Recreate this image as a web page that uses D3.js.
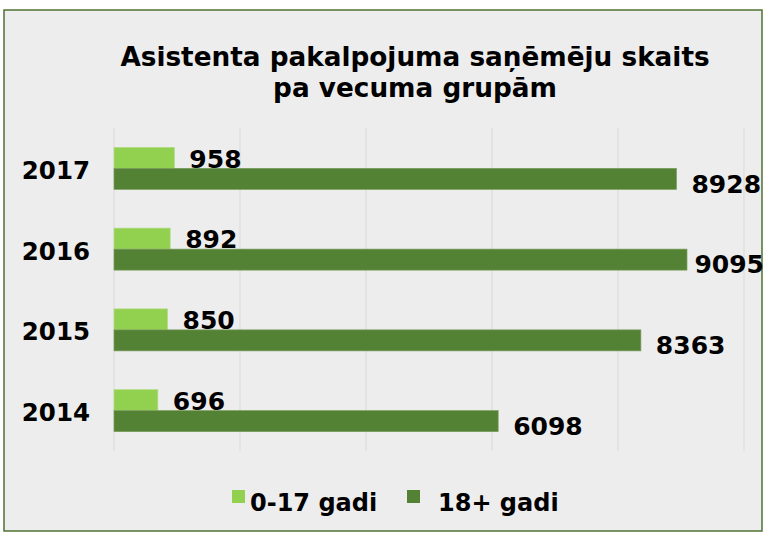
<!DOCTYPE html>
<html>
<head>
<meta charset="utf-8">
<script src="https://cdn.jsdelivr.net/npm/d3@7"></script>
<style>
  body { margin: 0; background: #fff; }
  text { font-family: "DejaVu Sans", Verdana, sans-serif; font-weight: bold; fill: #000; }
</style>
</head>
<body>
<div id="chart"></div>
<script>
// data
const years = ["2017", "2016", "2015", "2014"];
const youth = [958, 892, 850, 696];
const adults = [8928, 9095, 8363, 6098];
const seriesNames = ["0-17 gadi", "18+ gadi"];
const seriesColors = ["#92d050", "#548235"];
const xTicks = [0, 2000, 4000, 6000, 8000, 10000];

const width = 767, height = 535;

const svg = d3.select("#chart")
  .append("svg")
  .attr("width", width)
  .attr("height", height);

svg.append("rect")
  .attr("x", 4).attr("y", 10)
  .attr("width", 758).attr("height", 521)
  .attr("fill", "#ededed")
  .attr("stroke", "#4f7132")
  .attr("stroke-width", 1.5);

// title
const title = svg.append("text")
  .attr("text-anchor", "middle")
  .attr("font-size", 26.3);
title.append("tspan").attr("x", 415).attr("y", 66).text("Asistenta pakalpojuma saņēmēju skaits");
title.append("tspan").attr("x", 415).attr("y", 97).text("pa vecuma grupām");

const x = d3.scaleLinear().domain([0, 10000]).range([114, 744]);
const y = d3.scaleBand().domain(years).range([128, 451]).paddingInner(0.48).paddingOuter(0.24);

// gridlines
svg.append("g")
  .selectAll("line")
  .data(xTicks)
  .enter()
  .append("line")
  .attr("x1", d => x(d)).attr("x2", d => x(d))
  .attr("y1", 128).attr("y2", 451)
  .attr("stroke", "#d9d9d9")
  .attr("stroke-width", 1);

const barH = y.bandwidth() / 2;

const rows = years.map((yr, i) => ({ year: yr, vals: [youth[i], adults[i]] }));

const groups = svg.append("g")
  .selectAll("g")
  .data(rows)
  .enter()
  .append("g");

groups.selectAll("rect")
  .data(d => d.vals.map((v, k) => ({ year: d.year, v: v, k: k })))
  .enter()
  .append("rect")
  .attr("x", x(0))
  .attr("y", d => y(d.year) + d.k * barH)
  .attr("width", d => x(d.v) - x(0))
  .attr("height", barH)
  .attr("fill", d => seriesColors[d.k])
  .attr("stroke", d => d.k === 0 ? "#b2dc86" : "#7a9c5c")
  .attr("stroke-width", 0.7);

groups.selectAll("text")
  .data(d => d.vals.map((v, k) => ({ year: d.year, v: v, k: k })))
  .enter()
  .append("text")
  .attr("y", d => y(d.year) + d.k * barH + barH / 2 + (d.k === 0 ? 1 : 5))
  .attr("dy", "0.35em")
  .attr("font-size", 25)
  .text(d => d.v)
  .attr("x", function (d) {
    // keep label inside the chart frame like Excel does
    const w = this.getComputedTextLength();
    return Math.min(x(d.v) + 15, 764 - w);
  });

// y axis labels
svg.append("g")
  .selectAll("text")
  .data(years)
  .enter()
  .append("text")
  .attr("x", 90)
  .attr("y", d => y(d) + y.bandwidth() / 2 + 2)
  .attr("dy", "0.35em")
  .attr("text-anchor", "end")
  .attr("font-size", 24.5)
  .text(d => d);

// legend
const legendX = [232, 407];
const legendTextX = [250, 438];
const legend = svg.append("g")
  .selectAll("g")
  .data(seriesNames)
  .enter()
  .append("g");

legend.append("rect")
  .attr("x", (d, i) => legendX[i])
  .attr("y", 490)
  .attr("width", 13).attr("height", 13)
  .attr("fill", (d, i) => seriesColors[i]);

legend.append("text")
  .attr("x", (d, i) => legendTextX[i])
  .attr("y", 503)
  .attr("dy", "0.35em")
  .attr("font-size", 24)
  .text(d => d);
</script>
</body>
</html>
